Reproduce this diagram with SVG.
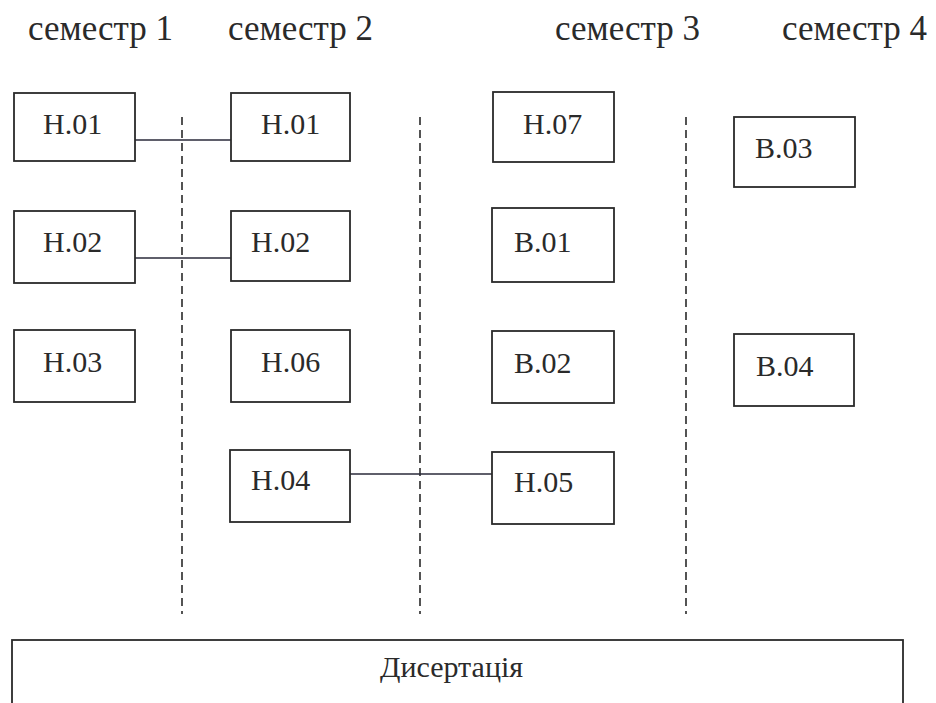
<svg xmlns="http://www.w3.org/2000/svg" width="936" height="703" viewBox="0 0 936 703">
<style>
.box{fill:#fff;stroke:#2a2a2a;stroke-width:1.8}
.lbl{font-family:"Liberation Serif","Times New Roman",serif;font-size:30px;fill:#2a2a2a}
.hdr{font-family:"Liberation Serif","Times New Roman",serif;font-size:35px;fill:#2a2a2a}
.con{stroke:#2a2a3a;stroke-width:1.6;fill:none}
.dash{stroke:#2a2a2a;stroke-width:1.6;stroke-dasharray:8,5;fill:none}
</style>
<rect width="936" height="703" fill="#fff"/>
<g id="headers">
<text class="hdr" x="28" y="40">семестр 1</text>
<text class="hdr" x="228" y="40">семестр 2</text>
<text class="hdr" x="555" y="40">семестр 3</text>
<text class="hdr" x="782" y="40">семестр 4</text>
</g>
<g id="separators">
<line class="dash" x1="182" y1="117" x2="182" y2="614"/>
<line class="dash" x1="420" y1="117" x2="420" y2="614"/>
<line class="dash" x1="686" y1="117" x2="686" y2="614"/>
</g>
<g id="connectors">
<line class="con" x1="135" y1="140" x2="231" y2="140"/>
<line class="con" x1="135" y1="258" x2="231" y2="258"/>
<line class="con" x1="350" y1="474" x2="492" y2="474"/>
</g>
<g id="n-s1-h01"><rect class="box" x="14" y="93" width="121" height="68"/><text class="lbl" x="43" y="134">Н.01</text></g>
<g id="n-s1-h02"><rect class="box" x="14" y="211" width="121" height="72"/><text class="lbl" x="43" y="252">Н.02</text></g>
<g id="n-s1-h03"><rect class="box" x="14" y="330" width="121" height="72"/><text class="lbl" x="43" y="372">Н.03</text></g>
<g id="n-s2-h01"><rect class="box" x="231" y="93" width="119" height="68"/><text class="lbl" x="261" y="134">Н.01</text></g>
<g id="n-s2-h02"><rect class="box" x="231" y="211" width="119" height="70"/><text class="lbl" x="251" y="252">Н.02</text></g>
<g id="n-s2-h06"><rect class="box" x="231" y="330" width="119" height="72"/><text class="lbl" x="261" y="372">Н.06</text></g>
<g id="n-s2-h04"><rect class="box" x="230" y="450" width="120" height="72"/><text class="lbl" x="251" y="490">Н.04</text></g>
<g id="n-s3-h07"><rect class="box" x="493" y="92" width="121" height="70"/><text class="lbl" x="523" y="134">Н.07</text></g>
<g id="n-s3-b01"><rect class="box" x="492" y="208" width="122" height="74"/><text class="lbl" x="514" y="252">В.01</text></g>
<g id="n-s3-b02"><rect class="box" x="492" y="331" width="122" height="72"/><text class="lbl" x="514" y="373">В.02</text></g>
<g id="n-s3-h05"><rect class="box" x="492" y="452" width="122" height="72"/><text class="lbl" x="514" y="492">Н.05</text></g>
<g id="n-s4-b03"><rect class="box" x="734" y="117" width="121" height="70"/><text class="lbl" x="755" y="158">В.03</text></g>
<g id="n-s4-b04"><rect class="box" x="734" y="334" width="120" height="72"/><text class="lbl" x="756" y="376">В.04</text></g>
<g id="n-thesis"><rect class="box" x="12" y="640" width="891" height="70"/><text class="lbl" x="380" y="677" font-size="31">Дисертація</text></g>
</svg>
